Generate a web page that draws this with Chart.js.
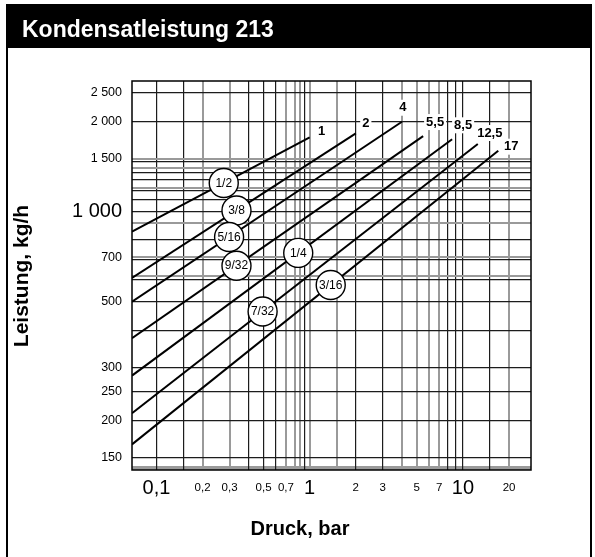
<!DOCTYPE html>
<html><head><meta charset="utf-8">
<script src="https://cdn.jsdelivr.net/npm/chart.js@4.4.1/dist/chart.umd.min.js"></script>
<style>html,body{margin:0;padding:0;background:#fff;}#wrap{width:595px;height:557px;position:relative}</style>
</head><body><div id="wrap"><canvas id="c" width="595" height="557"></canvas></div>
<script>
// ---- texts ----
const chartTitle = 'Kondensatleistung 213';
const xAxisTitle = 'Druck, bar';
const yAxisTitle = 'Leistung, kg/h';

// ---- series (one straight log-log line per orifice size) ----
const sizeLabels = ['1/2', '3/8', '5/16', '9/32', '1/4', '7/32', '3/16'];
const pressureMax = [1, 2, 4, 5.5, 8.5, 12.5, 17];          // bar, end of each line
const flowAtAxisStart = [854, 598, 498, 376, 282, 211, 166]; // kg/h at left edge
const flowAtPressureMax = [1767, 1822, 1992, 1784, 1740, 1678, 1594]; // kg/h at end
const sizeLabelPressure = [0.275, 0.333, 0.298, 0.333, 0.842, 0.493, 1.372]; // where the circle sits

// ---- axes ----
const xMin = 0.0693, xMax = 27.8;
const yMin = 136.3, yMax = 2726;
const xGridValues = [0.1, 0.15, 0.2, 0.3, 0.4, 0.5, 0.6, 0.7, 0.8, 0.86, 0.92, 1, 1.5, 2, 3, 4, 5, 6, 7, 8, 9, 10, 15, 20];
const xGridGray = [0.2, 0.3, 0.7, 0.8, 0.86, 1, 1.5, 4, 5, 6, 7, 20];
const xTickValues = [0.1, 0.2, 0.3, 0.5, 0.7, 1, 2, 3, 5, 7, 10, 20];
const xTickLabels = ['0,1', '0,2', '0,3', '0,5', '0,7', '1', '2', '3', '5', '7', '10', '20'];
const xTickMajor = [0.1, 1, 10];
const yGridValues = [150, 200, 250, 300, 400, 500, 590, 605, 690, 705, 805, 910, 1000, 1090, 1175, 1200, 1275, 1350, 1400, 1460, 1500, 2000, 2500];
const yGridGray = [605, 705, 910, 1200, 1400, 1500];
const yTickValues = [150, 200, 250, 300, 500, 700, 1000, 1500, 2000, 2500];
const yTickLabels = ['150', '200', '250', '300', '500', '700', '1 000', '1 500', '2 000', '2 500'];
const yTickMajor = [1000];

// ---- styles ----
const FONT = "'Liberation Sans', Arial, Helvetica, sans-serif";
const BLACK_GRID = '#1c1c1c', GRAY_GRID = '#9a9a9a';
const endLabelOffsets = [[12, -6], [10, -10], [1, -14], [12, -14], [11, -14], [12, -11], [13, -4]];

const near = (a, b) => Math.abs(a - b) < 1e-6 * Math.max(1, Math.abs(b));
const has = (arr, v) => arr.some(a => near(a, v));
const labelOf = (vals, labels, v) => { const i = vals.findIndex(a => near(a, v)); return i < 0 ? '' : labels[i]; };
const union = (a, b) => [...a, ...b.filter(v => !has(a, v))].sort((p, q) => p - q);
const allX = union(xGridValues, xTickValues);
const allY = union(yGridValues, yTickValues);

function flowOnLine(i, p) {
  const lx0 = Math.log10(xMin), lx1 = Math.log10(pressureMax[i]);
  const ly0 = Math.log10(flowAtAxisStart[i]), ly1 = Math.log10(flowAtPressureMax[i]);
  const t = (Math.log10(p) - lx0) / (lx1 - lx0);
  return Math.pow(10, ly0 + t * (ly1 - ly0));
}

const lineDatasets = pressureMax.map((pm, i) => ({
  label: sizeLabels[i],
  data: [{ x: xMin, y: flowAtAxisStart[i] }, { x: pm, y: flowAtPressureMax[i] }],
  showLine: true, borderColor: '#000', borderWidth: 2, pointRadius: 0, order: 1
}));
const circleDataset = {
  label: 'sizes',
  data: sizeLabels.map((s, i) => ({ x: sizeLabelPressure[i], y: flowOnLine(i, sizeLabelPressure[i]) })),
  pointRadius: 14.5, pointBackgroundColor: '#fff', pointBorderColor: '#000', pointBorderWidth: 1.4, order: 0
};

const decor = {
  id: 'decor',
  beforeDraw(chart) {
    const { ctx, chartArea: a } = chart;
    ctx.save();
    ctx.fillStyle = '#fff'; ctx.fillRect(0, 0, chart.width, chart.height);
    ctx.fillStyle = '#000';
    ctx.fillRect(6, 4, 586, 44);
    ctx.fillRect(6, 4, 2, chart.height);
    ctx.fillRect(590, 4, 2, chart.height);
    ctx.fillStyle = GRAY_GRID;
    ctx.fillRect(a.left, a.bottom - 4, a.right - a.left, 4);
    ctx.restore();
  },
  afterDatasetsDraw(chart) {
    const { ctx, chartArea: a } = chart;
    ctx.save();
    ctx.strokeStyle = '#000'; ctx.lineWidth = 1.5;
    ctx.strokeRect(a.left, a.top, a.right - a.left, a.bottom - a.top);
    const cm = chart.getDatasetMeta(0);
    ctx.fillStyle = '#000';
    ctx.font = '12px ' + FONT; ctx.textAlign = 'center'; ctx.textBaseline = 'middle';
    cm.data.forEach((pt, i) => ctx.fillText(sizeLabels[i], pt.x, pt.y + 0.5));
    ctx.font = 'bold 13px ' + FONT;
    pressureMax.forEach((pm, i) => {
      const e = chart.getDatasetMeta(i + 1).data[1];
      const txt = String(pm).replace('.', ',');
      const x = e.x + endLabelOffsets[i][0], y = e.y + endLabelOffsets[i][1];
      const w = ctx.measureText(txt).width;
      ctx.fillStyle = '#fff'; ctx.fillRect(x - w / 2 - 2, y - 8, w + 4, 16);
      ctx.fillStyle = '#000'; ctx.fillText(txt, x, y);
    });
    ctx.restore();
  },
  afterDraw(chart) {
    const { ctx } = chart;
    ctx.save();
    ctx.fillStyle = '#fff';
    ctx.font = 'bold 23px ' + FONT; ctx.textAlign = 'left'; ctx.textBaseline = 'alphabetic';
    ctx.fillText(chartTitle, 22, 37);
    ctx.fillStyle = '#000';
    ctx.font = 'bold 20px ' + FONT; ctx.textAlign = 'center'; ctx.textBaseline = 'middle';
    ctx.fillText(xAxisTitle, 300, 529);
    ctx.font = 'bold 21px ' + FONT;
    ctx.translate(22, 276); ctx.rotate(-Math.PI / 2);
    ctx.fillText(yAxisTitle, 0, 0);
    ctx.restore();
  }
};

new Chart(document.getElementById('c'), {
  type: 'scatter',
  data: { datasets: [circleDataset, ...lineDatasets] },
  plugins: [decor],
  options: {
    responsive: false, animation: false, devicePixelRatio: 1,
    layout: { padding: { top: 81, right: 64, left: 0, bottom: 0 } },
    plugins: { legend: { display: false }, tooltip: { enabled: false } },
    scales: {
      x: {
        type: 'logarithmic', min: xMin, max: xMax, bounds: 'data',
        afterBuildTicks: s => { s.ticks = allX.map(v => ({ value: v })); },
        afterFit: s => { s.height = 87; },
        border: { display: false },
        grid: {
          drawTicks: false,
          color: c => !c.tick ? BLACK_GRID : (!has(xGridValues, c.tick.value) ? 'rgba(0,0,0,0)' : (has(xGridGray, c.tick.value) ? GRAY_GRID : BLACK_GRID)),
          lineWidth: c => (c.tick && has(xGridGray, c.tick.value)) ? 2 : 1.2
        },
        ticks: {
          autoSkip: false, maxRotation: 0, minRotation: 0, padding: 6, crossAlign: 'near', color: '#000',
          callback: v => labelOf(xTickValues, xTickLabels, v),
          font: c => ({ family: FONT, lineHeight: '24px', size: (c.tick && has(xTickMajor, c.tick.value)) ? 20 : 11.5 })
        }
      },
      y: {
        type: 'logarithmic', min: yMin, max: yMax, bounds: 'data',
        afterBuildTicks: s => { s.ticks = allY.map(v => ({ value: v })); },
        afterFit: s => { s.width = 132; },
        border: { display: false },
        grid: {
          drawTicks: false,
          color: c => !c.tick ? BLACK_GRID : (!has(yGridValues, c.tick.value) ? 'rgba(0,0,0,0)' : (has(yGridGray, c.tick.value) ? GRAY_GRID : BLACK_GRID)),
          lineWidth: c => (c.tick && has(yGridGray, c.tick.value)) ? 2 : 1.2
        },
        ticks: {
          autoSkip: false, padding: 10, color: '#000',
          callback: v => labelOf(yTickValues, yTickLabels, v),
          font: c => ({ family: FONT, size: (c.tick && has(yTickMajor, c.tick.value)) ? 20 : 12.5 })
        }
      }
    }
  }
});
</script></body></html>
